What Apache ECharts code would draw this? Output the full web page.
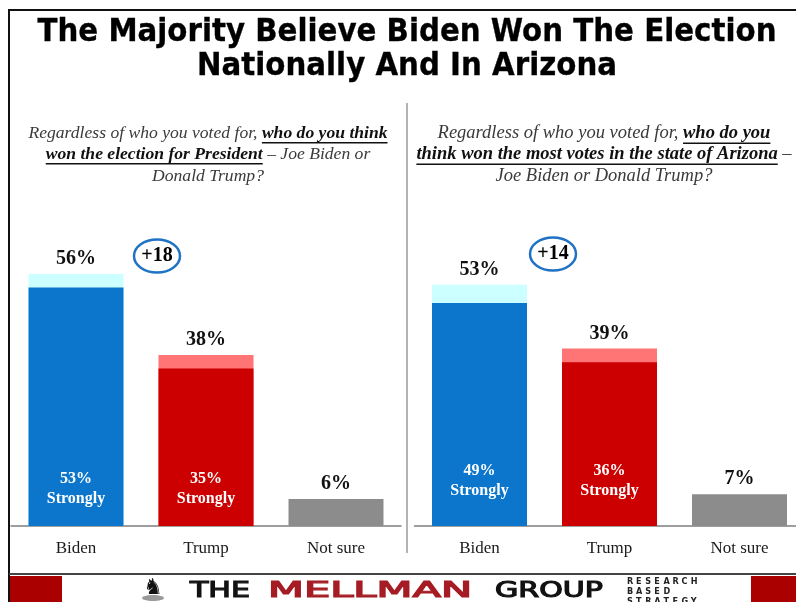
<!DOCTYPE html>
<html><head><meta charset="utf-8">
<script src="https://cdn.jsdelivr.net/npm/echarts@6/dist/echarts.min.js"></script>
<style>html,body{margin:0;padding:0;background:#fff}#c{width:796px;height:602px}</style>
</head><body><div id="c"></div>
<script>
// ---- data ----
const categories = ['Biden', 'Trump', 'Not sure'];
const nationalTotal = [56, 38, 6];
const nationalStrongly = [53, 35, null];
const arizonaTotal = [53, 39, 7];
const arizonaStrongly = [49, 36, null];
const nationalMargin = '+18';
const arizonaMargin = '+14';
const titleLines = ['The Majority Believe Biden Won The Election', 'Nationally And In Arizona'];
// [text, emphasised]
const leftQuestion = [
  [['Regardless of who you voted for, ', 0], ['who do you think', 1]],
  [['won the election for President', 1], [' \u2013 Joe Biden or', 0]],
  [['Donald Trump?', 0]]
];
const rightQuestion = [
  [['Regardless of who you voted for, ', 0], ['who do you', 1]],
  [['think won the most votes in the state of Arizona', 1], [' \u2013', 0]],
  [['Joe Biden or Donald Trump?', 0]]
];
const brandWords = ['THE', 'MELLMAN', 'GROUP'];
const taglineLines = ['RESEARCH', 'BASED', 'STRATEGY'];

// ---- styles ----
const lightColors = ['#CCFFFF', '#FF7575', '#8C8C8C'];
const darkColors = ['#0B76CC', '#CC0000', '#8C8C8C'];
const SERIF = '"Liberation Serif", "Times New Roman", serif';

const cv = document.createElement('canvas').getContext('2d');
function measure(font, text) { cv.font = font; return cv.measureText(text).width; }

const graphics = [];
// frame
graphics.push({type:'line', shape:{x1:8, y1:10, x2:796, y2:10}, style:{stroke:'#111', lineWidth:2}});
graphics.push({type:'line', shape:{x1:9, y1:10, x2:9, y2:602}, style:{stroke:'#111', lineWidth:2}});
graphics.push({type:'line', shape:{x1:407, y1:103, x2:407, y2:553}, style:{stroke:'#9a9a9a', lineWidth:1.5}});
// footer
graphics.push({type:'line', shape:{x1:9, y1:574, x2:796, y2:574}, style:{stroke:'#444', lineWidth:2}});
graphics.push({type:'rect', shape:{x:10, y:576, width:52, height:26}, style:{fill:'#AA0000'}});
graphics.push({type:'rect', shape:{x:751, y:576, width:45, height:26}, style:{fill:'#AA0000'}});

// title
const titleFont = 'bold 32px "DejaVu Sans"';
const tw = measure(titleFont, titleLines[0]);
const tScale = 739 / tw;
[33, 67].forEach((y, i) => {
  graphics.push({type:'text', x:407, y:y, scaleX:tScale, style:{text:titleLines[i], font:titleFont, fill:'#000', stroke:'#000', lineWidth:0.35, textAlign:'center', textVerticalAlign:'middle'}});
});

// questions
function question(lines, cx, ys, size) {
  lines.forEach((segs, li) => {
    const fonts = segs.map(s => s[1] ? `italic bold ${size}px ${SERIF}` : `italic ${size}px ${SERIF}`);
    const widths = segs.map((s, k) => measure(fonts[k], s[0]));
    const total = widths.reduce((a, b) => a + b, 0);
    let x = cx - total / 2;
    segs.forEach((s, k) => {
      graphics.push({type:'text', x:x, y:ys[li], style:{text:s[0], font:fonts[k], fill:s[1] ? '#111' : '#3a3a3a', textAlign:'left', textVerticalAlign:'middle'}});
      if (s[1]) {
        const w = widths[k] - (s[0].endsWith(' ') ? measure(fonts[k], ' ') : 0);
        graphics.push({type:'line', shape:{x1:x, y1:ys[li] + size * 0.5 + 1, x2:x + w, y2:ys[li] + size * 0.5 + 1}, style:{stroke:'#111', lineWidth:1.5}});
      }
      x += widths[k];
    });
  });
}
question(leftQuestion, 208, [133, 154, 176], 17.6);
question(rightQuestion, 604, [133, 154, 176], 18.5);

// margin badges
function badge(text, cx, cy) {
  graphics.push({type:'ellipse', shape:{cx:cx, cy:cy, rx:23, ry:16.5}, style:{fill:'none', stroke:'#1F72C4', lineWidth:2.5}});
  graphics.push({type:'text', x:cx, y:cy, style:{text:text, font:`bold 20px ${SERIF}`, fill:'#000', textAlign:'center', textVerticalAlign:'middle'}});
}
badge(nationalMargin, 157, 256);
badge(arizonaMargin, 553, 254);

// brand
graphics.push({type:'ellipse', shape:{cx:153, cy:598, rx:11, ry:3}, style:{fill:'#9a9a9a'}});
graphics.push({type:'text', x:153, y:588, style:{text:'\u265E', font:'22px "DejaVu Sans"', fill:'#111', textAlign:'center', textVerticalAlign:'middle'}});
const brandSpans = [[190, 250, '#111'], [268, 472, '#A51C24'], [495, 603, '#111']];
const brandFont = '22px "DejaVu Sans"';
brandWords.forEach((w, i) => {
  const [x0, x1, col] = brandSpans[i];
  const sx = (x1 - x0) / measure(brandFont, w);
  graphics.push({type:'text', x:x0, y:591, scaleX:sx, style:{text:w, font:brandFont, fill:col, stroke:col, lineWidth:1.2, textAlign:'left', textVerticalAlign:'middle'}});
});
taglineLines.forEach((w, i) => {
  for (let k = 0; k < w.length; k++) {
    graphics.push({type:'text', x:627 + k * 9.1, y:582 + i * 10, style:{text:w[k], font:'bold 9px "DejaVu Sans Condensed", "DejaVu Sans"', fill:'#222', textAlign:'left', textVerticalAlign:'middle'}});
  }
});

function xAxis(gi) {
  return {type:'category', gridIndex:gi, data:categories,
    axisLine:{show:true, lineStyle:{color:'#7f7f7f', width:1.5}}, axisTick:{show:false},
    axisLabel:{fontFamily:SERIF, fontSize:17, color:'#1a1a1a', margin:14}};
}
function yAxis(gi) {
  return {type:'value', gridIndex:gi, min:0, max:100, show:false, splitLine:{show:false}};
}
function series(gi, total, strong, dist) {
  return [
    {type:'bar', xAxisIndex:gi, yAxisIndex:gi, data:total, barWidth:95, barGap:'-100%',
      itemStyle:{color:p => lightColors[p.dataIndex]},
      label:{show:true, position:'top', distance:5, formatter:'{c}%', fontFamily:SERIF, fontWeight:'bold', fontSize:20, color:'#111'}},
    {type:'bar', xAxisIndex:gi, yAxisIndex:gi, data:strong, barWidth:95, barGap:'-100%',
      itemStyle:{color:p => darkColors[p.dataIndex]},
      label:{show:true, position:'insideBottom', distance:dist, formatter:p => p.value + '%\nStrongly', fontFamily:SERIF, fontWeight:'bold', fontSize:16, lineHeight:20, color:'#fff'}}
  ];
}

const chart = echarts.init(document.getElementById('c'), null, {renderer:'canvas'});
chart.setOption({
  animation:false,
  backgroundColor:'#fff',
  grid:[{left:11, top:76, width:390, height:450, outerBoundsMode:'none', containLabel:false},
        {left:414.5, top:71, width:390, height:455, outerBoundsMode:'none', containLabel:false}],
  xAxis:[xAxis(0), xAxis(1)],
  yAxis:[yAxis(0), yAxis(1)],
  series:[...series(0, nationalTotal, nationalStrongly, 17), ...series(1, arizonaTotal, arizonaStrongly, 25)],
  graphic:{elements:graphics}
});
</script></body></html>
